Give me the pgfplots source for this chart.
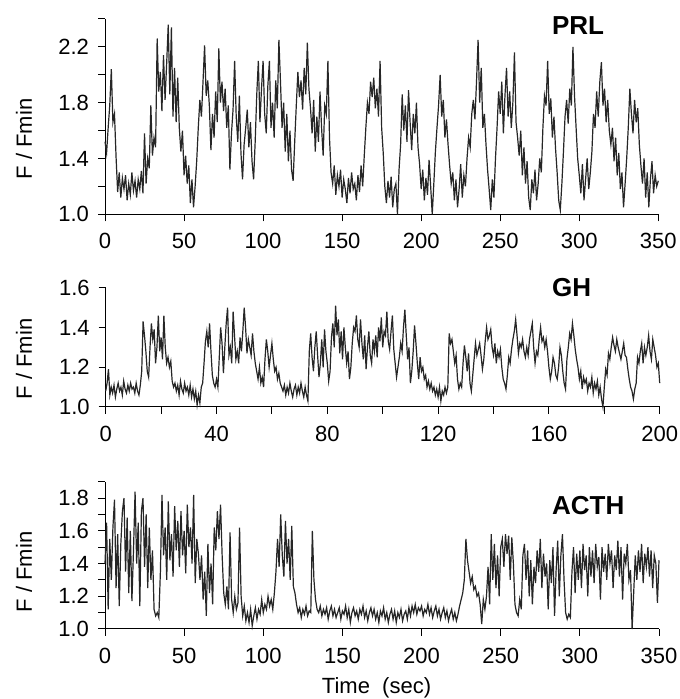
\documentclass[border=0pt]{standalone}
\usepackage{pgfplots}
\pgfplotsset{compat=1.18}
\usepackage{pgfplotstable}
\usepackage{fontspec}
\setmainfont{Liberation Sans}

\pgfplotstableread[row sep=\\]{
y\\
1.52\\1.44\\1.62\\1.78\\2.04\\1.66\\1.72\\1.41\\1.16\\1.30\\
1.12\\1.26\\1.18\\1.28\\1.10\\1.22\\1.14\\1.30\\1.17\\1.24\\
1.12\\1.25\\1.18\\1.31\\1.15\\1.58\\1.22\\1.40\\1.33\\1.78\\
1.42\\1.55\\1.48\\2.26\\1.88\\2.02\\1.74\\2.14\\1.82\\2.08\\
2.36\\1.86\\2.34\\1.70\\2.05\\1.66\\1.98\\1.62\\1.45\\1.60\\
1.28\\1.42\\1.22\\1.35\\1.08\\1.25\\1.05\\1.20\\1.38\\1.62\\
1.82\\1.70\\1.95\\2.21\\1.85\\1.96\\1.78\\1.46\\1.72\\1.55\\
1.88\\1.66\\2.19\\1.80\\1.95\\1.74\\1.90\\1.62\\1.78\\1.32\\
1.58\\1.75\\2.10\\1.70\\1.52\\1.85\\1.44\\1.25\\1.50\\1.62\\
1.75\\1.48\\1.66\\1.38\\1.25\\1.52\\1.86\\2.10\\1.66\\1.90\\
2.10\\1.72\\1.58\\1.92\\2.10\\1.62\\1.80\\1.55\\1.96\\1.76\\
2.25\\1.95\\1.62\\1.80\\1.45\\1.72\\1.38\\1.60\\1.32\\1.24\\
1.52\\1.78\\2.02\\1.84\\1.96\\1.75\\2.05\\1.86\\2.23\\1.90\\
1.76\\1.58\\1.82\\1.45\\1.70\\1.52\\1.88\\1.62\\1.42\\1.78\\
1.72\\2.10\\1.55\\1.30\\1.22\\1.35\\1.14\\1.28\\1.20\\1.32\\
1.12\\1.25\\1.18\\1.08\\1.26\\1.15\\1.30\\1.18\\1.22\\1.10\\
1.28\\1.16\\1.35\\1.20\\1.42\\1.62\\1.80\\1.72\\1.95\\1.84\\
1.98\\1.76\\1.90\\1.70\\2.10\\1.62\\1.44\\1.20\\1.08\\1.24\\
1.12\\1.27\\1.05\\1.18\\1.22\\1.00\\1.32\\1.50\\1.86\\1.60\\
1.78\\1.52\\1.89\\1.66\\1.46\\1.72\\1.58\\1.80\\1.48\\1.36\\
1.18\\1.32\\1.10\\1.26\\1.14\\1.39\\1.20\\1.00\\1.22\\1.45\\
1.62\\1.78\\2.00\\1.70\\1.82\\1.55\\1.68\\1.50\\1.35\\1.22\\
1.30\\1.10\\1.25\\1.05\\1.18\\1.36\\1.12\\1.28\\1.20\\1.40\\
1.55\\1.48\\1.72\\1.82\\1.68\\1.95\\2.25\\1.80\\2.05\\1.62\\
1.72\\1.50\\1.32\\1.18\\1.03\\1.25\\1.12\\1.40\\1.62\\1.88\\
1.72\\1.95\\1.58\\1.85\\2.05\\1.70\\1.88\\1.62\\1.80\\2.16\\
1.66\\1.55\\1.42\\1.60\\1.28\\1.48\\1.22\\1.38\\1.12\\1.03\\
1.25\\1.15\\1.32\\1.10\\1.22\\1.40\\1.30\\1.62\\1.85\\1.78\\
2.10\\1.72\\1.83\\1.55\\1.70\\1.47\\1.30\\1.10\\1.03\\1.22\\
1.45\\1.70\\1.82\\1.65\\1.90\\1.78\\2.20\\1.85\\1.62\\1.40\\
1.28\\1.15\\1.36\\1.10\\1.25\\1.40\\1.18\\1.30\\1.45\\1.72\\
1.62\\1.88\\1.70\\1.95\\2.09\\1.78\\1.90\\1.66\\1.82\\1.60\\
1.50\\1.62\\1.38\\1.55\\1.28\\1.44\\1.18\\1.30\\1.05\\1.22\\
1.40\\1.62\\1.90\\1.72\\1.58\\1.82\\1.66\\1.76\\1.50\\1.35\\
1.22\\1.40\\1.12\\1.30\\1.05\\1.25\\1.38\\1.15\\1.28\\1.20\\1.24\\
}\prl

\pgfplotstableread[row sep=\\]{
y\\
1.08\\1.12\\1.19\\1.06\\1.10\\1.07\\1.11\\1.05\\1.09\\1.12\\
1.08\\1.10\\1.06\\1.13\\1.09\\1.07\\1.11\\1.08\\1.12\\1.09\\
1.10\\1.07\\1.12\\1.08\\1.06\\1.11\\1.18\\1.43\\1.36\\1.28\\
1.18\\1.15\\1.30\\1.42\\1.34\\1.39\\1.22\\1.30\\1.46\\1.28\\
1.35\\1.24\\1.46\\1.30\\1.22\\1.25\\1.20\\1.23\\1.13\\1.10\\
1.12\\1.08\\1.11\\1.06\\1.13\\1.09\\1.07\\1.12\\1.08\\1.10\\
1.06\\1.11\\1.05\\1.09\\1.04\\1.08\\1.01\\1.06\\1.02\\1.10\\
1.12\\1.22\\1.33\\1.38\\1.30\\1.42\\1.28\\1.16\\1.12\\1.10\\
1.14\\1.10\\1.25\\1.40\\1.32\\1.17\\1.30\\1.42\\1.50\\1.26\\
1.30\\1.22\\1.48\\1.36\\1.24\\1.28\\1.22\\1.35\\1.28\\1.38\\
1.50\\1.40\\1.27\\1.34\\1.30\\1.26\\1.37\\1.28\\1.22\\1.18\\
1.14\\1.20\\1.12\\1.15\\1.10\\1.24\\1.34\\1.28\\1.20\\1.26\\
1.32\\1.24\\1.18\\1.20\\1.14\\1.17\\1.12\\1.10\\1.08\\1.11\\
1.06\\1.10\\1.07\\1.12\\1.08\\1.05\\1.09\\1.11\\1.06\\1.10\\
1.07\\1.12\\1.08\\1.05\\1.10\\1.06\\1.03\\1.28\\1.37\\1.25\\
1.18\\1.30\\1.38\\1.26\\1.15\\1.22\\1.34\\1.20\\1.39\\1.28\\
1.22\\1.13\\1.18\\1.35\\1.42\\1.30\\1.51\\1.36\\1.44\\1.27\\
1.38\\1.24\\1.40\\1.30\\1.22\\1.28\\1.14\\1.20\\1.32\\1.40\\
1.38\\1.46\\1.34\\1.30\\1.44\\1.32\\1.24\\1.36\\1.19\\1.30\\
1.38\\1.26\\1.22\\1.34\\1.28\\1.36\\1.25\\1.40\\1.33\\1.45\\
1.30\\1.38\\1.36\\1.48\\1.33\\1.29\\1.38\\1.46\\1.29\\1.22\\
1.15\\1.20\\1.25\\1.32\\1.28\\1.40\\1.49\\1.36\\1.24\\1.30\\
1.12\\1.18\\1.28\\1.41\\1.32\\1.22\\1.14\\1.25\\1.18\\1.20\\
1.14\\1.16\\1.10\\1.13\\1.09\\1.12\\1.08\\1.10\\1.06\\1.09\\
1.05\\1.10\\1.03\\1.08\\1.06\\1.10\\1.07\\1.10\\1.37\\1.32\\
1.34\\1.28\\1.22\\1.26\\1.14\\1.09\\1.12\\1.10\\1.22\\1.31\\
1.25\\1.18\\1.27\\1.12\\1.08\\1.16\\1.24\\1.32\\1.26\\1.29\\
1.32\\1.26\\1.19\\1.24\\1.33\\1.40\\1.34\\1.36\\1.39\\1.30\\
1.26\\1.32\\1.22\\1.28\\1.25\\1.29\\1.20\\1.14\\1.12\\1.09\\
1.16\\1.25\\1.22\\1.29\\1.34\\1.38\\1.44\\1.36\\1.27\\1.32\\
1.30\\1.34\\1.28\\1.25\\1.30\\1.26\\1.34\\1.38\\1.42\\1.30\\
1.22\\1.28\\1.26\\1.34\\1.40\\1.33\\1.35\\1.30\\1.34\\1.28\\
1.20\\1.14\\1.18\\1.25\\1.22\\1.16\\1.14\\1.20\\1.30\\1.26\\
1.18\\1.12\\1.09\\1.24\\1.30\\1.37\\1.34\\1.42\\1.36\\1.29\\
1.24\\1.20\\1.14\\1.18\\1.09\\1.15\\1.12\\1.14\\1.08\\1.12\\
1.10\\1.15\\1.07\\1.12\\1.09\\1.13\\1.06\\1.10\\1.04\\1.00\\
1.10\\1.19\\1.16\\1.27\\1.24\\1.30\\1.35\\1.31\\1.28\\1.34\\
1.30\\1.27\\1.24\\1.28\\1.32\\1.26\\1.25\\1.19\\1.14\\1.10\\
1.08\\1.04\\1.09\\1.12\\1.25\\1.22\\1.28\\1.32\\1.22\\1.30\\
1.26\\1.30\\1.36\\1.28\\1.24\\1.34\\1.30\\1.26\\1.20\\1.22\\
1.12\\
}\gh

\pgfplotstableread[row sep=\\]{
y\\
1.40\\1.65\\1.12\\1.55\\1.30\\1.62\\1.79\\1.25\\1.58\\1.14\\
1.52\\1.72\\1.80\\1.35\\1.68\\1.22\\1.60\\1.17\\1.48\\1.84\\
1.40\\1.65\\1.14\\1.72\\1.80\\1.38\\1.70\\1.25\\1.62\\1.30\\
1.48\\1.12\\1.08\\1.10\\1.07\\1.35\\1.82\\1.45\\1.62\\1.30\\
1.78\\1.42\\1.58\\1.32\\1.75\\1.48\\1.66\\1.38\\1.72\\1.45\\
1.60\\1.34\\1.76\\1.50\\1.62\\1.40\\1.82\\1.28\\1.55\\1.46\\
1.30\\1.45\\1.18\\1.35\\1.08\\1.52\\1.22\\1.40\\1.15\\1.62\\
1.48\\1.72\\1.55\\1.76\\1.45\\1.22\\1.15\\1.26\\1.12\\1.59\\
1.18\\1.10\\1.20\\1.12\\1.16\\1.62\\1.20\\1.08\\1.14\\1.05\\
1.10\\1.04\\1.12\\1.02\\1.08\\1.13\\1.06\\1.12\\1.09\\1.18\\
1.10\\1.15\\1.12\\1.20\\1.14\\1.18\\1.12\\1.22\\1.35\\1.55\\
1.38\\1.70\\1.45\\1.32\\1.66\\1.40\\1.55\\1.30\\1.63\\1.26\\
1.22\\1.15\\1.10\\1.13\\1.07\\1.12\\1.09\\1.14\\1.08\\1.11\\
1.10\\1.60\\1.30\\1.18\\1.12\\1.10\\1.14\\1.08\\1.12\\1.09\\
1.13\\1.06\\1.11\\1.14\\1.08\\1.12\\1.07\\1.10\\1.13\\1.06\\
1.11\\1.09\\1.14\\1.07\\1.12\\1.04\\1.10\\1.13\\1.08\\1.11\\
1.06\\1.12\\1.09\\1.14\\1.07\\1.11\\1.05\\1.10\\1.13\\1.08\\
1.12\\1.06\\1.10\\1.04\\1.11\\1.08\\1.13\\1.06\\1.10\\1.04\\
1.09\\1.12\\1.06\\1.11\\1.04\\1.10\\1.07\\1.12\\1.05\\1.09\\
1.11\\1.06\\1.13\\1.08\\1.14\\1.10\\1.15\\1.09\\1.13\\1.11\\
1.14\\1.08\\1.12\\1.10\\1.15\\1.09\\1.13\\1.07\\1.11\\1.14\\
1.08\\1.12\\1.06\\1.10\\1.13\\1.07\\1.11\\1.05\\1.09\\1.12\\
1.06\\1.10\\1.05\\1.09\\1.14\\1.18\\1.22\\1.30\\1.55\\1.42\\
1.35\\1.28\\1.32\\1.24\\1.26\\1.20\\1.22\\1.15\\1.03\\1.18\\
1.12\\1.20\\1.38\\1.15\\1.58\\1.30\\1.52\\1.25\\1.45\\1.20\\
1.50\\1.55\\1.38\\1.58\\1.46\\1.57\\1.30\\1.56\\1.40\\1.15\\
1.10\\1.08\\1.18\\1.12\\1.45\\1.52\\1.30\\1.48\\1.20\\1.42\\
1.15\\1.38\\1.28\\1.48\\1.35\\1.55\\1.25\\1.46\\1.32\\1.40\\
1.12\\1.42\\1.28\\1.50\\1.08\\1.36\\1.54\\1.20\\1.45\\1.58\\
1.30\\1.10\\1.06\\1.09\\1.07\\1.35\\1.50\\1.22\\1.46\\1.30\\
1.48\\1.25\\1.52\\1.36\\1.45\\1.20\\1.50\\1.32\\1.48\\1.28\\
1.52\\1.38\\1.44\\1.18\\1.50\\1.35\\1.46\\1.30\\1.52\\1.40\\
1.48\\1.25\\1.45\\1.36\\1.54\\1.32\\1.50\\1.18\\1.46\\1.40\\
1.52\\1.30\\1.36\\1.00\\1.22\\1.45\\1.30\\1.48\\1.35\\1.52\\
1.28\\1.46\\1.38\\1.50\\1.32\\1.48\\1.25\\1.45\\1.40\\1.16\\1.42\\
}\acth

\pgfplotsset{
  panel/.style={
    scale only axis, anchor=south west, xmin=0, clip=false,
    axis lines=left,
    axis line style={-, line width=0.5pt, black},
    every outer x axis line/.append style={-},
    every outer y axis line/.append style={-},
    tick align=outside, major tick length=3.5pt,
    tick style={black, line width=0.5pt},
    ticklabel style={font=\fontsize{11}{13}\selectfont},
    xticklabel style={yshift=-2.5pt},
    yticklabel style={xshift=-1pt},
  },
  trace/.style={line width=0.6pt, black!85, mark=none},
}

\begin{document}
\begin{tikzpicture}
\useasboundingbox (0pt,0pt) rectangle (339.5pt,349.5pt);

% PRL
\begin{axis}[panel, at={(52.5pt,242.35pt)}, width=276.65pt, height=97.65pt,
  xmax=350, ymin=1, ymax=2.4,
  xtick={0,50,100,150,200,250,300,350},
  xticklabels={0,50,100,150,200,250,300,350},
  ytick={1,1.2,1.4,1.6,1.8,2,2.2,2.4},
  yticklabels={1.0,,1.4,,1.8,,2.2,}]
\addplot[trace] table[x expr=\coordindex, y=y] {\prl};
\end{axis}

% GH
\begin{axis}[panel, at={(52.85pt,146pt)}, width=277pt, height=59.65pt,
  xmax=200, ymin=1, ymax=1.6,
  xtick={0,20,40,60,80,100,120,140,160,180,200},
  xticklabels={0,,40,,80,,120,,160,,200},
  ytick={1,1.2,1.4,1.6},
  yticklabels={1.0,1.2,1.4,1.6}]
\addplot[trace] table[x expr=\coordindex*0.5, y=y] {\gh};
\end{axis}

% ACTH
\begin{axis}[panel, at={(52.5pt,35pt)}, width=277pt, height=73.65pt,
  xmax=350, ymin=1, ymax=1.9,
  xtick={0,50,100,150,200,250,300,350},
  xticklabels={0,50,100,150,200,250,300,350},
  ytick={1,1.1,1.2,1.3,1.4,1.5,1.6,1.7,1.8,1.9},
  yticklabels={1.0,,1.2,,1.4,,1.6,,1.8,}]
\addplot[trace] table[x expr=\coordindex, y=y] {\acth};
\end{axis}

\node[rotate=90, anchor=base, font=\fontsize{11}{13}\selectfont] at (16pt,280pt) {F / Fmin};
\node[rotate=90, anchor=base, font=\fontsize{11}{13}\selectfont] at (16pt,170pt) {F / Fmin};
\node[rotate=90, anchor=base, font=\fontsize{11}{13}\selectfont] at (16pt,63.5pt) {F / Fmin};

\node[anchor=base west, inner sep=0pt, font=\fontsize{13}{15}\selectfont\bfseries] at (275.85pt,332pt) {PRL};
\node[anchor=base west, inner sep=0pt, font=\fontsize{13}{15}\selectfont\bfseries] at (275.85pt,201pt) {GH};
\node[anchor=base west, inner sep=0pt, font=\fontsize{13}{15}\selectfont\bfseries] at (275.85pt,92pt) {ACTH};

\node[anchor=base, inner sep=0pt, font=\fontsize{11}{13}\selectfont] at (188.25pt,2.5pt) {Time\ \ (sec)};
\end{tikzpicture}
\end{document}
